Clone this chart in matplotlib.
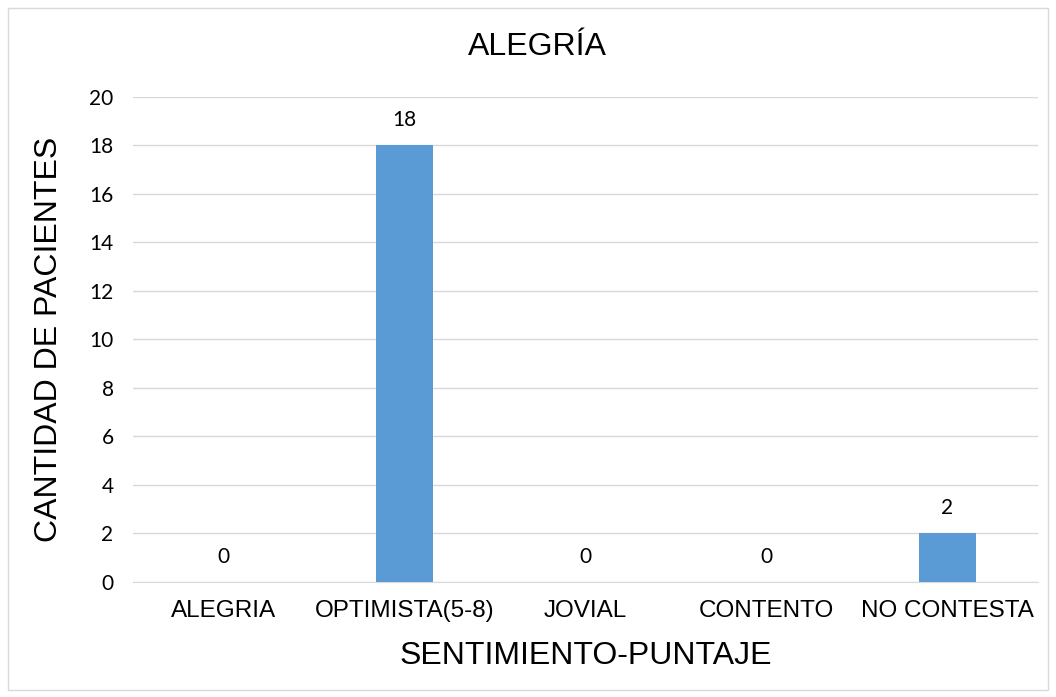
import matplotlib
matplotlib.use("Agg")
import matplotlib.pyplot as plt
from matplotlib.patches import Rectangle

plt.rcParams['font.family'] = ['Liberation Sans', 'DejaVu Sans']
num_font = ['Lato', 'DejaVu Sans']

categories = ['ALEGRIA', 'OPTIMISTA(5-8)', 'JOVIAL', 'CONTENTO', 'NO CONTESTA']
values = [0, 18, 0, 0, 2]
yticks = [0, 2, 4, 6, 8, 10, 12, 14, 16, 18, 20]

fig = plt.figure(figsize=(10.56, 6.97), dpi=100)
ax = fig.add_axes([0.126, 0.165, 0.857, 0.696])

# chart border
fig.patches.append(Rectangle((0.008, 0.01), 0.984, 0.978, transform=fig.transFigure,
                             fill=False, edgecolor='#D9D9D9', linewidth=1))

x = range(len(categories))
bars = ax.bar(x, values, width=0.31, color='#5B9BD5', zorder=3)
for xi, v in zip(x, values):
    ax.annotate(str(v), (xi, v), xytext=(0, 11), textcoords='offset points',
                ha='center', va='bottom', fontsize=15, family=num_font)

ax.set_xlim(-0.5, len(categories) - 0.5)
ax.set_ylim(0, 20)
ax.set_yticks(yticks)
ax.set_yticklabels([str(t) for t in yticks], family=num_font, fontsize=15)
ax.set_xticks(list(x))
ax.set_xticklabels(categories, fontsize=17.5)
ax.tick_params(axis='y', length=0, pad=14)
ax.tick_params(axis='x', length=0, pad=13)
ax.grid(axis='y', color='#D9D9D9', linewidth=1, zorder=0)
for s in ['top', 'right', 'left']:
    ax.spines[s].set_visible(False)
ax.spines['bottom'].set_color('#D9D9D9')

fig.text(0.509, 0.932, 'ALEGRÍA', fontsize=23, ha='center', va='center')
ax.set_xlabel('SENTIMIENTO-PUNTAJE', fontsize=23, labelpad=14)
ax.set_ylabel('CANTIDAD DE PACIENTES', fontsize=23, labelpad=18)

fig.savefig('out.png', dpi=100)
